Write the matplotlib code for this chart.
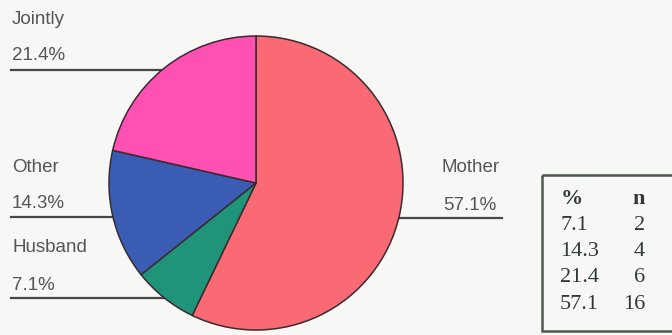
"""
Pie chart: who decides, with side labels and a small % / n table.
"""
import numpy as np
import matplotlib
matplotlib.use('Agg')
import matplotlib.pyplot as plt
from matplotlib.patches import Rectangle

labels = ['Mother', 'Husband', 'Other', 'Jointly']
counts = [16, 2, 4, 6]
colors = ['#fa6a74', '#1f9479', '#3a5db3', '#ff50b4']

total = sum(counts)
pcts = [100.0 * c / total for c in counts]

W, H = 672, 335
fig = plt.figure(figsize=(W / 100, H / 100), dpi=100)
fig.patch.set_facecolor('#f7f7f5')

# overlay in pixel coordinates for labels, leader lines and the table
bg = fig.add_axes([0, 0, 1, 1], zorder=0)
bg.set_xlim(0, W)
bg.set_ylim(H, 0)
bg.axis('off')

# pie placed by centre / radius in pixels
cx, cy, r = 256, 183, 147
pax = fig.add_axes([(cx - r) / W, (H - cy - r) / H, 2 * r / W, 2 * r / H], zorder=1)
pax.pie(counts, colors=colors, startangle=90, counterclock=False,
        wedgeprops=dict(edgecolor='#3b2a30', linewidth=1.1))
pax.set_xlim(-1, 1)
pax.set_ylim(-1, 1)
pax.set_aspect('equal')
pax.patch.set_alpha(0)

lab_font = dict(family='Liberation Sans', fontsize=13.5, color='#555555')
line_kw = dict(color='#474747', linewidth=1.6)

# left-hand labels: name, percent, underline running into the pie
left = {'Jointly': (20, 55, 70), 'Other': (167, 203, 217), 'Husband': (247, 285, 298)}
for name, (y_name, y_pct, y_line) in left.items():
    i = labels.index(name)
    bg.text(12, y_name, name, ha='left', va='center', **lab_font)
    bg.text(12, y_pct, '%.1f%%' % pcts[i], ha='left', va='center', **lab_font)
    bg.plot([11, cx], [y_line, y_line], **line_kw)

# right-hand label for Mother
i = labels.index('Mother')
bg.text(500, 168, 'Mother', ha='right', va='center', **lab_font)
bg.text(496, 205, '%.1f%%' % pcts[i], ha='right', va='center', **lab_font)
bg.plot([cx, 502], [218, 218], **line_kw)

# % / n table
bg.add_patch(Rectangle((542, 175), 160, 156, fill=False,
                       edgecolor='#4b5a4d', linewidth=1.8))
tab_font = dict(family='Liberation Serif', fontsize=16, color='#2e3a33')
bg.text(561, 199, '%', ha='left', va='center', fontweight='bold', **tab_font)
bg.text(645, 199, 'n', ha='right', va='center', fontweight='bold', **tab_font)
order = np.argsort(counts)
for k, j in enumerate(order):
    y = 225 + k * 26.5
    bg.text(560, y, '%.1f' % pcts[j], ha='left', va='center', **tab_font)
    bg.text(645, y, '%d' % counts[j], ha='right', va='center', **tab_font)

fig.savefig('out.png', dpi=100, facecolor=fig.get_facecolor())
